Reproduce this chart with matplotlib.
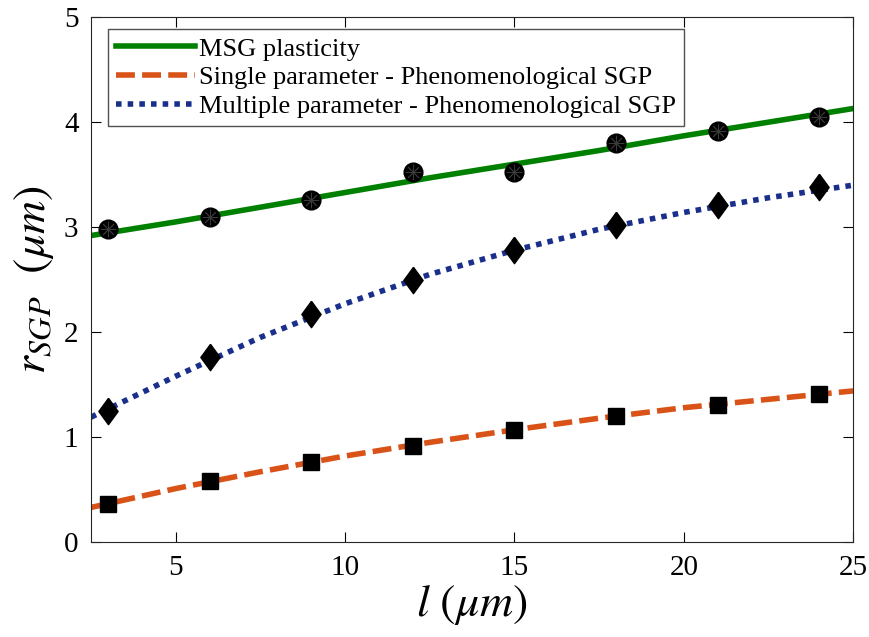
import numpy as np
import matplotlib.pyplot as plt

plt.rcParams['font.family'] = ['Liberation Serif', 'DejaVu Serif']
plt.rcParams['mathtext.fontset'] = 'stix'

# marker (simulation) points
l_pts = [3, 6, 9, 12, 15, 18, 21, 24]
msg_pts = [2.98, 3.10, 3.26, 3.53, 3.53, 3.80, 3.92, 4.05]
multi_pts = [1.25, 1.76, 2.17, 2.50, 2.78, 3.02, 3.21, 3.38]
single_pts = [0.36, 0.58, 0.76, 0.92, 1.07, 1.20, 1.31, 1.41]

# fitted curves
l_fit = [2.5, 5, 7.5, 10, 12.5, 15, 17.5, 20, 22.5, 25]
msg_fit = [2.92, 3.05, 3.19, 3.33, 3.47, 3.60, 3.73, 3.87, 4.00, 4.13]
multi_fit = [1.19, 1.58, 1.95, 2.27, 2.55, 2.78, 2.98, 3.14, 3.28, 3.40]
single_fit = [0.33, 0.51, 0.67, 0.82, 0.95, 1.07, 1.18, 1.28, 1.36, 1.44]

labels = ['MSG plasticity',
          'Single parameter - Phenomenological SGP',
          'Multiple parameter - Phenomenological SGP']

fig = plt.figure(figsize=(8.7, 6.37), dpi=100)
ax = fig.add_axes([0.1046, 0.149, 0.876, 0.824])

ax.plot(l_fit, msg_fit, '-', color='#008000', lw=4, label=labels[0])
ax.plot(l_fit, single_fit, '--', color='#D95319', lw=4, dashes=(3.4, 1.3), label=labels[1])
ax.plot(l_fit, multi_fit, ':', color='#1a2f8c', lw=4, dashes=(1, 1.1), label=labels[2])

# fat diamond like the matlab one
diamond = [(0, 1), (0.73, 0), (0, -1), (-0.73, 0), (0, 1)]

ax.plot(l_pts, msg_pts, 'o', color='black', ms=13.5, zorder=5)
ax.plot(l_pts, msg_pts, marker=(8, 2, 0), ls='none', color='#3a3a3a', ms=11, mew=0.6, zorder=6)
ax.plot(l_pts, multi_pts, marker=diamond, ls='none', color='black', ms=19, zorder=5)
ax.plot(l_pts, single_pts, 's', color='black', ms=11, zorder=5)

ax.set_xlim(2.5, 25)
ax.set_ylim(0, 5)
ax.set_xticks([5, 10, 15, 20, 25])
ax.set_yticks([0, 1, 2, 3, 4, 5])
ax.tick_params(direction='in', top=True, right=True, labelsize=21, length=7, width=0.8, pad=9)
for s in ax.spines.values():
    s.set_linewidth(0.8)
    s.set_color('#262626')

ax.set_xlabel(r'$l\ (\mu m)$', fontsize=33, labelpad=2)
ax.set_ylabel(r'$r_{SGP}\ \ (\mu m)$', fontsize=33, labelpad=6)

leg = ax.legend(loc='upper left', fontsize=19, frameon=True, fancybox=False,
                edgecolor='#262626', borderpad=0.3, labelspacing=0.2,
                handlelength=3.0, handletextpad=0.15, borderaxespad=0,
                bbox_to_anchor=(0.022, 0.977))
leg.get_frame().set_linewidth(1.0)

fig.savefig('out.png', dpi=100)
